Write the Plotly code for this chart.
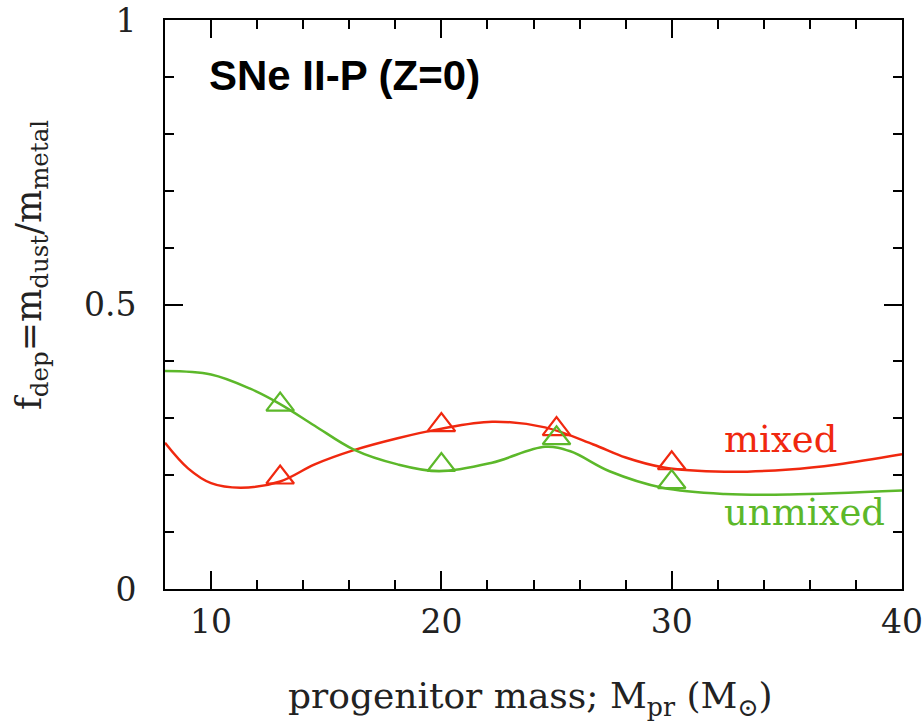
import plotly.graph_objects as go

# Data points (triangles)
mass_pts = [13, 20, 25, 30]
mixed_pts = [0.196, 0.288, 0.281, 0.221]
unmixed_pts = [0.324, 0.218, 0.265, 0.188]

# Smooth curves
mixed_x = [8.0, 9.0, 10.0, 11.3, 13.0, 14.5, 16.2, 18.1, 19.9, 22.2, 24.5, 26.6, 28.0, 29.6, 32.3, 35.1, 37.2, 40.0]
mixed_y = [0.257, 0.212, 0.186, 0.178, 0.189, 0.219, 0.244, 0.265, 0.281, 0.294, 0.284, 0.254, 0.231, 0.214, 0.206, 0.210, 0.219, 0.237]
unmixed_x = [8.0, 10.0, 11.7, 13.0, 14.5, 16.2, 18.1, 19.9, 22.2, 24.5, 25.6, 27.3, 29.6, 32.3, 35.1, 40.0]
unmixed_y = [0.383, 0.377, 0.352, 0.325, 0.287, 0.245, 0.219, 0.207, 0.222, 0.250, 0.242, 0.207, 0.178, 0.167, 0.166, 0.173]

x_ticks = [10, 20, 30, 40]
y_ticks = [0, 0.5, 1]
y_ticktext = ["0", "0.5", "1"]

RED = "#f0280f"
GREEN = "#5cb82a"
SERIF = "DejaVu Serif"
TXT = "#222222"

fig = go.Figure()
fig.add_trace(go.Scatter(x=mixed_x, y=mixed_y, mode="lines", line=dict(color=RED, width=2.5, shape="spline", smoothing=1.0), showlegend=False))
fig.add_trace(go.Scatter(x=unmixed_x, y=unmixed_y, mode="lines", line=dict(color=GREEN, width=2.5, shape="spline", smoothing=1.0), showlegend=False))
fig.add_trace(go.Scatter(x=mass_pts, y=mixed_pts, mode="markers",
                         marker=dict(symbol="triangle-up-open", size=24, color=RED, line=dict(width=2.2, color=RED)), showlegend=False))
fig.add_trace(go.Scatter(x=mass_pts, y=unmixed_pts, mode="markers",
                         marker=dict(symbol="triangle-up-open", size=24, color=GREEN, line=dict(width=2.2, color=GREEN)), showlegend=False))

axis_common = dict(showline=True, linecolor="black", linewidth=2, mirror="ticks", ticks="inside",
                   tickcolor="black", tickwidth=2, ticklen=18, showgrid=False, zeroline=False,
                   automargin=False, ticklabeloverflow="allow",
                   tickfont=dict(family=SERIF, size=33, color=TXT))

fig.update_xaxes(range=[8, 40], tickvals=x_ticks, ticktext=[str(v) for v in x_ticks], ticklabelstandoff=2,
                 minor=dict(dtick=2, tick0=0, ticks="inside", ticklen=9, tickwidth=1.8, tickcolor="black", showgrid=False),
                 **axis_common)
fig.update_yaxes(range=[0, 1], tickvals=y_ticks, ticktext=y_ticktext, ticklabelstandoff=20,
                 minor=dict(dtick=0.1, tick0=0, ticks="inside", ticklen=9, tickwidth=1.8, tickcolor="black", showgrid=False),
                 **axis_common)

# axis titles
fig.add_annotation(x=0.495, y=-0.192, xref="paper", yref="paper", showarrow=False,
                   text="progenitor mass; M<sub>pr</sub> (M<sub>⊙</sub>)", xanchor="center", yanchor="middle",
                   font=dict(family=SERIF, size=36, color=TXT))
fig.add_annotation(x=-0.182, y=0.569, xref="paper", yref="paper", showarrow=False, textangle=-90,
                   text="f<sub>dep</sub>=m<sub>dust</sub>/m<sub>metal</sub>", xanchor="center", yanchor="middle",
                   font=dict(family=SERIF, size=35, color=TXT))

fig.add_annotation(x=0.057, y=0.903, xref="paper", yref="paper", text="<b>SNe II-P (Z=0)</b>", showarrow=False,
                   xanchor="left", yanchor="middle", font=dict(family="Liberation Sans", size=42, color="black"))
fig.add_annotation(x=0.756, y=0.262, xref="paper", yref="paper", text="mixed", showarrow=False,
                   xanchor="left", yanchor="middle", font=dict(family=SERIF, size=37, color=RED))
fig.add_annotation(x=0.756, y=0.134, xref="paper", yref="paper", text="unmixed", showarrow=False,
                   xanchor="left", yanchor="middle", font=dict(family=SERIF, size=37, color=GREEN))

fig.update_layout(width=924, height=728, margin=dict(l=165, r=22, t=20, b=139),
                  plot_bgcolor="white", paper_bgcolor="white")
fig.write_html("out.html")
